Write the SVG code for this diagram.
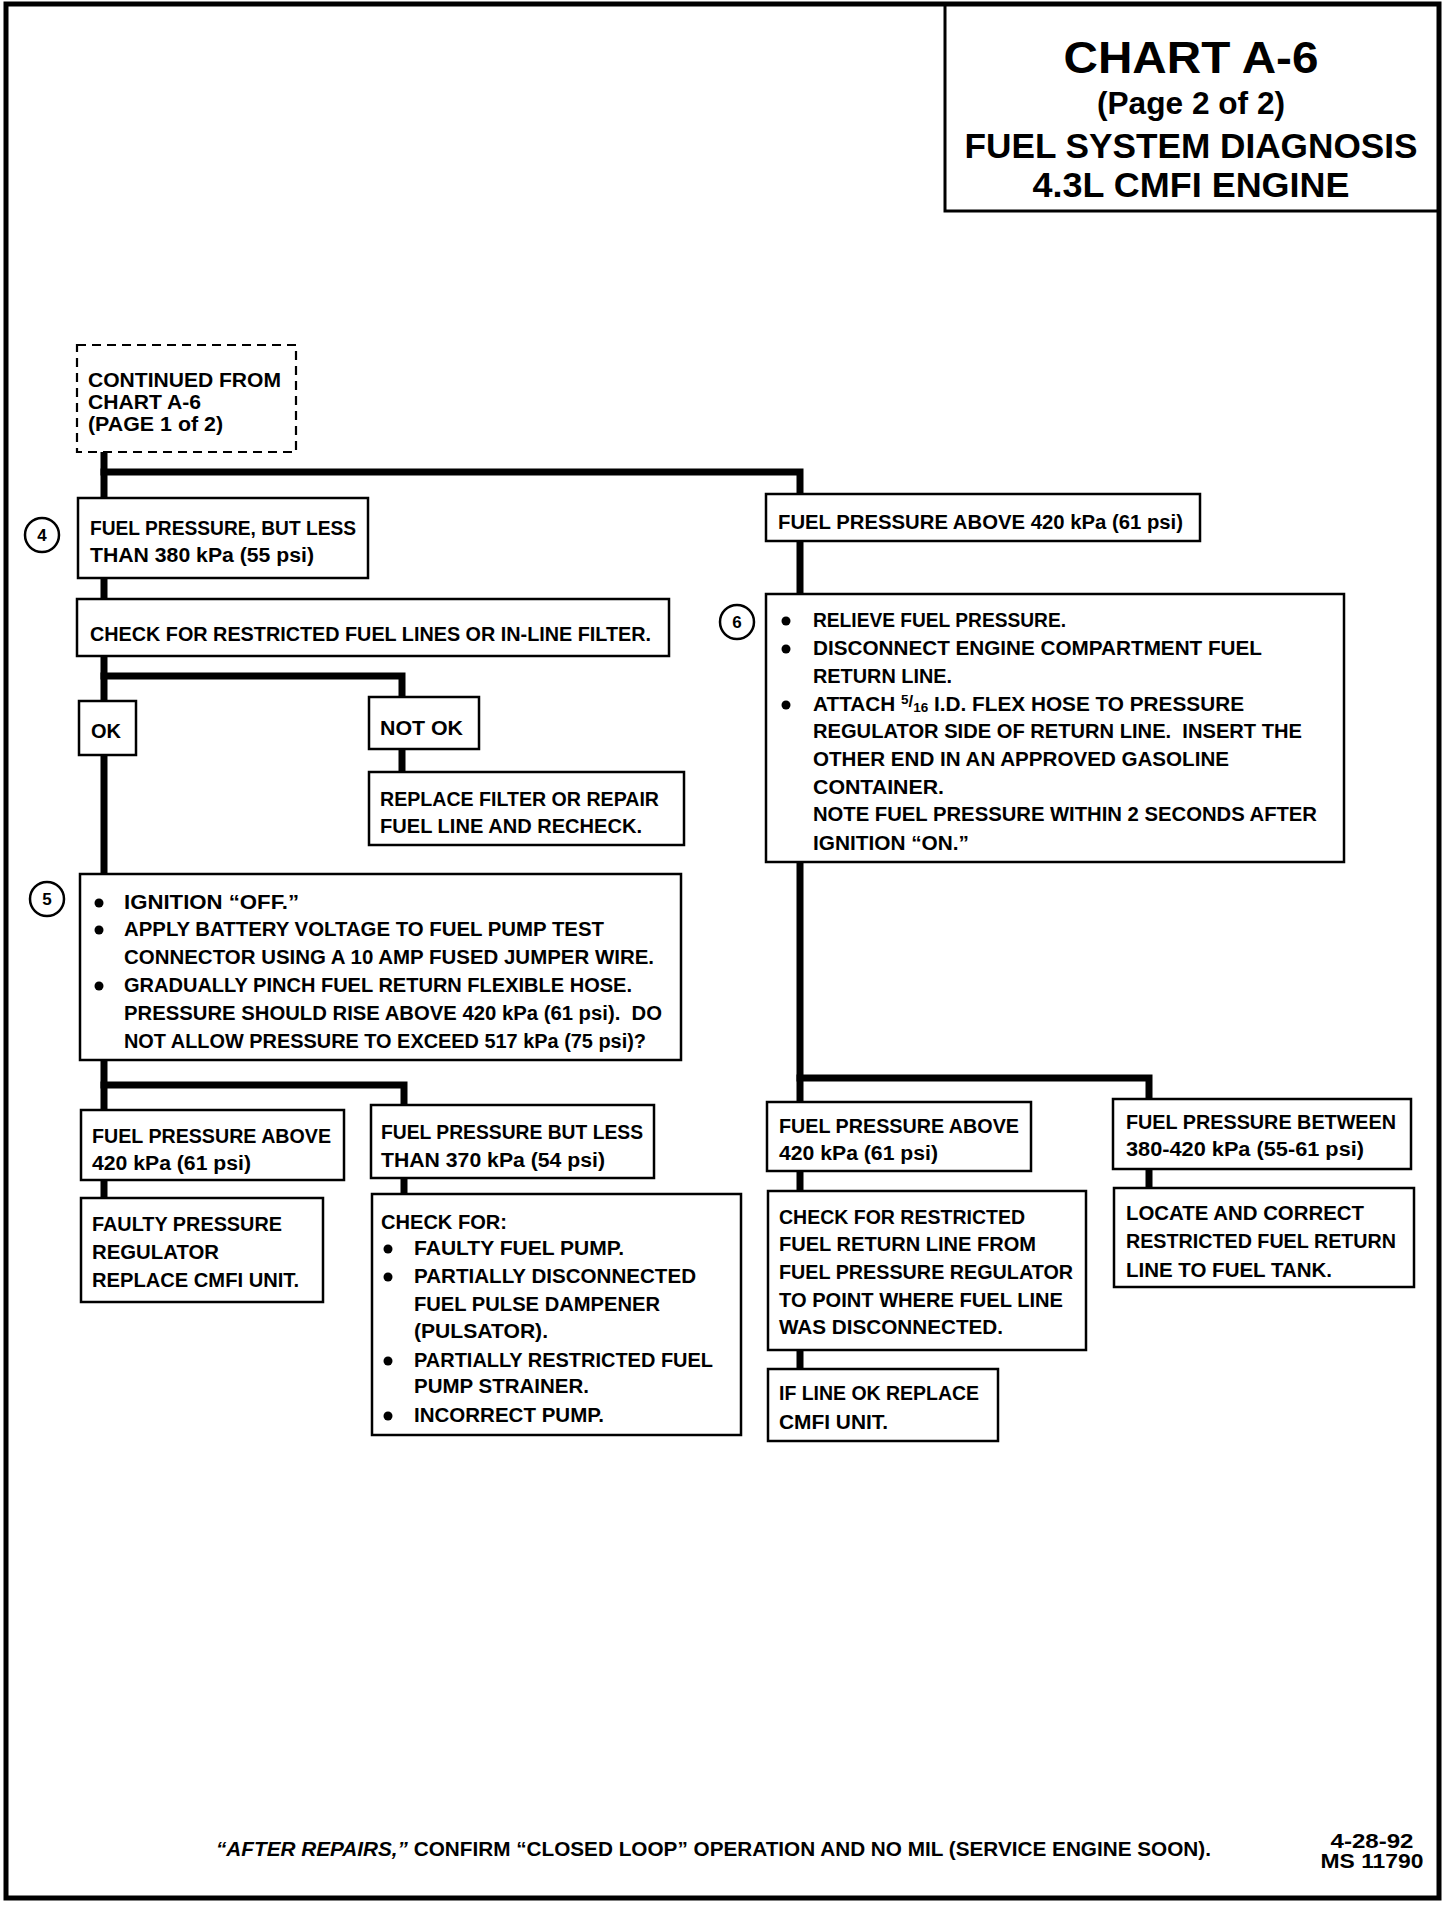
<svg xmlns="http://www.w3.org/2000/svg" width="1456" height="1906" viewBox="0 0 1456 1906">
<style>
.box{fill:#fff;stroke:#000;stroke-width:2.5}
.dash{fill:#fff;stroke:#000;stroke-width:2.2;stroke-dasharray:9 6}
.t{font-family:"Liberation Sans",Arial,sans-serif;font-weight:bold;font-size:20px;fill:#000}
.ttl{font-family:"Liberation Sans",Arial,sans-serif;font-weight:bold;fill:#000;text-anchor:middle}
.conn{stroke:#000;stroke-width:7;fill:none;stroke-linecap:square;stroke-linejoin:miter}
.num{fill:#fff;stroke:#000;stroke-width:2.5}
.numt{font-family:"Liberation Sans",Arial,sans-serif;font-weight:bold;font-size:17px;text-anchor:middle;fill:#000}
.dot{fill:#000}
</style>
<rect x="0" y="0" width="1456" height="1906" fill="#fff"/>
<g id="frame">
<rect x="6" y="4" width="1433" height="1894" fill="none" stroke="#000" stroke-width="5"/>
</g>
<g id="title">
<rect x="945" y="4" width="494" height="207" fill="none" stroke="#000" stroke-width="3"/>
<text class="ttl" x="1191" y="73" font-size="45" textLength="255" lengthAdjust="spacingAndGlyphs">CHART A-6</text>
<text class="ttl" x="1191" y="114" font-size="31" textLength="188" lengthAdjust="spacingAndGlyphs">(Page 2 of 2)</text>
<text class="ttl" x="1191" y="158" font-size="35" textLength="453" lengthAdjust="spacingAndGlyphs">FUEL SYSTEM DIAGNOSIS</text>
<text class="ttl" x="1191" y="197" font-size="35" textLength="317" lengthAdjust="spacingAndGlyphs">4.3L CMFI ENGINE</text>
</g>
<g id="connectors">
<path class="conn" d="M104 452 V1199"/>
<path class="conn" d="M104 472 H800 V1370"/>
<path class="conn" d="M104 676 H402 V772"/>
<path class="conn" d="M104 1085 H404 V1194"/>
<path class="conn" d="M800 1078 H1149 V1188"/>
</g>
<g id="continued">
<rect class="dash" x="77" y="345" width="219" height="107"/>
<text class="t" x="88" y="387" textLength="193" lengthAdjust="spacingAndGlyphs">CONTINUED FROM</text>
<text class="t" x="88" y="409" textLength="113" lengthAdjust="spacingAndGlyphs">CHART A-6</text>
<text class="t" x="88" y="431" textLength="135" lengthAdjust="spacingAndGlyphs">(PAGE 1 of 2)</text>
</g>
<g id="step4">
<circle class="num" cx="42" cy="535" r="17"/>
<text class="numt" x="42" y="541">4</text>
<rect class="box" x="78" y="498" width="290" height="80"/>
<text class="t" x="90" y="535" textLength="266" lengthAdjust="spacingAndGlyphs">FUEL PRESSURE, BUT LESS</text>
<text class="t" x="90" y="562" textLength="224" lengthAdjust="spacingAndGlyphs">THAN 380 kPa (55 psi)</text>
</g>
<g id="checkLines">
<rect class="box" x="77" y="599" width="592" height="57"/>
<text class="t" x="90" y="641" textLength="561" lengthAdjust="spacingAndGlyphs">CHECK FOR RESTRICTED FUEL LINES OR IN-LINE FILTER.</text>
</g>
<g id="ok">
<rect class="box" x="79" y="701" width="57" height="54"/>
<text class="t" x="91" y="738" textLength="30" lengthAdjust="spacingAndGlyphs">OK</text>
</g>
<g id="notOk">
<rect class="box" x="369" y="697" width="110" height="52"/>
<text class="t" x="380" y="735" textLength="83" lengthAdjust="spacingAndGlyphs">NOT OK</text>
</g>
<g id="replaceFilter">
<rect class="box" x="369" y="772" width="315" height="73"/>
<text class="t" x="380" y="806" textLength="279" lengthAdjust="spacingAndGlyphs">REPLACE FILTER OR REPAIR</text>
<text class="t" x="380" y="833" textLength="262" lengthAdjust="spacingAndGlyphs">FUEL LINE AND RECHECK.</text>
</g>
<g id="step5">
<circle class="num" cx="47" cy="899" r="17"/>
<text class="numt" x="47" y="905">5</text>
<rect class="box" x="80" y="874" width="601" height="186"/>
<circle class="dot" cx="99" cy="903" r="4.5"/>
<circle class="dot" cx="99" cy="930" r="4.5"/>
<circle class="dot" cx="99" cy="986" r="4.5"/>
<text class="t" x="124" y="909" textLength="175" lengthAdjust="spacingAndGlyphs">IGNITION “OFF.”</text>
<text class="t" x="124" y="936" textLength="480" lengthAdjust="spacingAndGlyphs">APPLY BATTERY VOLTAGE TO FUEL PUMP TEST</text>
<text class="t" x="124" y="964" textLength="530" lengthAdjust="spacingAndGlyphs">CONNECTOR USING A 10 AMP FUSED JUMPER WIRE.</text>
<text class="t" x="124" y="992" textLength="508" lengthAdjust="spacingAndGlyphs">GRADUALLY PINCH FUEL RETURN FLEXIBLE HOSE.</text>
<text class="t" x="124" y="1020" textLength="538" lengthAdjust="spacingAndGlyphs" xml:space="preserve">PRESSURE SHOULD RISE ABOVE 420 kPa (61 psi).  DO</text>
<text class="t" x="124" y="1048" textLength="522" lengthAdjust="spacingAndGlyphs">NOT ALLOW PRESSURE TO EXCEED 517 kPa (75 psi)?</text>
</g>
<g id="leftAbove420">
<rect class="box" x="81" y="1110" width="263" height="70"/>
<text class="t" x="92" y="1143" textLength="239" lengthAdjust="spacingAndGlyphs">FUEL PRESSURE ABOVE</text>
<text class="t" x="92" y="1170" textLength="159" lengthAdjust="spacingAndGlyphs">420 kPa (61 psi)</text>
</g>
<g id="leftLess370">
<rect class="box" x="371" y="1105" width="283" height="73"/>
<text class="t" x="381" y="1139" textLength="262" lengthAdjust="spacingAndGlyphs">FUEL PRESSURE BUT LESS</text>
<text class="t" x="381" y="1167" textLength="224" lengthAdjust="spacingAndGlyphs">THAN 370 kPa (54 psi)</text>
</g>
<g id="faultyRegulator">
<rect class="box" x="81" y="1198" width="242" height="104"/>
<text class="t" x="92" y="1231" textLength="190" lengthAdjust="spacingAndGlyphs">FAULTY PRESSURE</text>
<text class="t" x="92" y="1259" textLength="127" lengthAdjust="spacingAndGlyphs">REGULATOR</text>
<text class="t" x="92" y="1287" textLength="207" lengthAdjust="spacingAndGlyphs">REPLACE CMFI UNIT.</text>
</g>
<g id="checkPump">
<rect class="box" x="372" y="1194" width="369" height="241"/>
<text class="t" x="381" y="1229" textLength="126" lengthAdjust="spacingAndGlyphs">CHECK FOR:</text>
<circle class="dot" cx="388" cy="1249" r="4.5"/>
<circle class="dot" cx="388" cy="1277" r="4.5"/>
<circle class="dot" cx="388" cy="1361" r="4.5"/>
<circle class="dot" cx="388" cy="1416" r="4.5"/>
<text class="t" x="414" y="1255" textLength="210" lengthAdjust="spacingAndGlyphs">FAULTY FUEL PUMP.</text>
<text class="t" x="414" y="1283" textLength="282" lengthAdjust="spacingAndGlyphs">PARTIALLY DISCONNECTED</text>
<text class="t" x="414" y="1311" textLength="246" lengthAdjust="spacingAndGlyphs">FUEL PULSE DAMPENER</text>
<text class="t" x="414" y="1338" textLength="134" lengthAdjust="spacingAndGlyphs">(PULSATOR).</text>
<text class="t" x="414" y="1367" textLength="299" lengthAdjust="spacingAndGlyphs">PARTIALLY RESTRICTED FUEL</text>
<text class="t" x="414" y="1393" textLength="175" lengthAdjust="spacingAndGlyphs">PUMP STRAINER.</text>
<text class="t" x="414" y="1422" textLength="190" lengthAdjust="spacingAndGlyphs">INCORRECT PUMP.</text>
</g>
<g id="above420">
<rect class="box" x="766" y="494" width="434" height="47"/>
<text class="t" x="778" y="529" textLength="405" lengthAdjust="spacingAndGlyphs">FUEL PRESSURE ABOVE 420 kPa (61 psi)</text>
</g>
<g id="step6">
<circle class="num" cx="737" cy="622" r="17"/>
<text class="numt" x="737" y="628">6</text>
<rect class="box" x="766" y="594" width="578" height="268"/>
<circle class="dot" cx="786" cy="621" r="4.5"/>
<circle class="dot" cx="786" cy="649" r="4.5"/>
<circle class="dot" cx="786" cy="705" r="4.5"/>
<text class="t" x="813" y="627" textLength="253" lengthAdjust="spacingAndGlyphs">RELIEVE FUEL PRESSURE.</text>
<text class="t" x="813" y="655" textLength="449" lengthAdjust="spacingAndGlyphs">DISCONNECT ENGINE COMPARTMENT FUEL</text>
<text class="t" x="813" y="683" textLength="139" lengthAdjust="spacingAndGlyphs">RETURN LINE.</text>
<text class="t" x="813" y="711" textLength="431" lengthAdjust="spacingAndGlyphs">ATTACH <tspan font-size="13" dy="-7">5</tspan><tspan font-size="16" dy="3">/</tspan><tspan font-size="13" dy="5">16</tspan><tspan dy="-1"> I.D. FLEX HOSE TO PRESSURE</tspan></text>
<text class="t" x="813" y="738" textLength="489" lengthAdjust="spacingAndGlyphs" xml:space="preserve">REGULATOR SIDE OF RETURN LINE.  INSERT THE</text>
<text class="t" x="813" y="766" textLength="416" lengthAdjust="spacingAndGlyphs">OTHER END IN AN APPROVED GASOLINE</text>
<text class="t" x="813" y="794" textLength="131" lengthAdjust="spacingAndGlyphs">CONTAINER.</text>
<text class="t" x="813" y="821" textLength="504" lengthAdjust="spacingAndGlyphs">NOTE FUEL PRESSURE WITHIN 2 SECONDS AFTER</text>
<text class="t" x="813" y="850" textLength="156" lengthAdjust="spacingAndGlyphs">IGNITION “ON.”</text>
</g>
<g id="rightAbove420">
<rect class="box" x="767" y="1102" width="264" height="69"/>
<text class="t" x="779" y="1133" textLength="240" lengthAdjust="spacingAndGlyphs">FUEL PRESSURE ABOVE</text>
<text class="t" x="779" y="1160" textLength="159" lengthAdjust="spacingAndGlyphs">420 kPa (61 psi)</text>
</g>
<g id="between380420">
<rect class="box" x="1113" y="1099" width="298" height="70"/>
<text class="t" x="1126" y="1129" textLength="270" lengthAdjust="spacingAndGlyphs">FUEL PRESSURE BETWEEN</text>
<text class="t" x="1126" y="1156" textLength="238" lengthAdjust="spacingAndGlyphs">380-420 kPa (55-61 psi)</text>
</g>
<g id="checkReturn">
<rect class="box" x="768" y="1191" width="318" height="159"/>
<text class="t" x="779" y="1224" textLength="246" lengthAdjust="spacingAndGlyphs">CHECK FOR RESTRICTED</text>
<text class="t" x="779" y="1251" textLength="257" lengthAdjust="spacingAndGlyphs">FUEL RETURN LINE FROM</text>
<text class="t" x="779" y="1279" textLength="294" lengthAdjust="spacingAndGlyphs">FUEL PRESSURE REGULATOR</text>
<text class="t" x="779" y="1307" textLength="284" lengthAdjust="spacingAndGlyphs">TO POINT WHERE FUEL LINE</text>
<text class="t" x="779" y="1334" textLength="224" lengthAdjust="spacingAndGlyphs">WAS DISCONNECTED.</text>
</g>
<g id="lineOk">
<rect class="box" x="768" y="1369" width="230" height="72"/>
<text class="t" x="779" y="1400" textLength="200" lengthAdjust="spacingAndGlyphs">IF LINE OK REPLACE</text>
<text class="t" x="779" y="1429" textLength="109" lengthAdjust="spacingAndGlyphs">CMFI UNIT.</text>
</g>
<g id="locateCorrect">
<rect class="box" x="1114" y="1188" width="300" height="99"/>
<text class="t" x="1126" y="1220" textLength="238" lengthAdjust="spacingAndGlyphs">LOCATE AND CORRECT</text>
<text class="t" x="1126" y="1248" textLength="270" lengthAdjust="spacingAndGlyphs">RESTRICTED FUEL RETURN</text>
<text class="t" x="1126" y="1277" textLength="206" lengthAdjust="spacingAndGlyphs">LINE TO FUEL TANK.</text>
</g>
<g id="footer">
<text class="t" x="216" y="1856" font-size="18" textLength="995" lengthAdjust="spacingAndGlyphs"><tspan font-style="italic">“AFTER REPAIRS,”</tspan> CONFIRM “CLOSED LOOP” OPERATION AND NO MIL (SERVICE ENGINE SOON).</text>
<text class="t" x="1372" y="1848" font-size="18" text-anchor="middle" textLength="83" lengthAdjust="spacingAndGlyphs">4-28-92</text>
<text class="t" x="1372" y="1868" font-size="18" text-anchor="middle" textLength="103" lengthAdjust="spacingAndGlyphs">MS 11790</text>
</g>
</svg>
